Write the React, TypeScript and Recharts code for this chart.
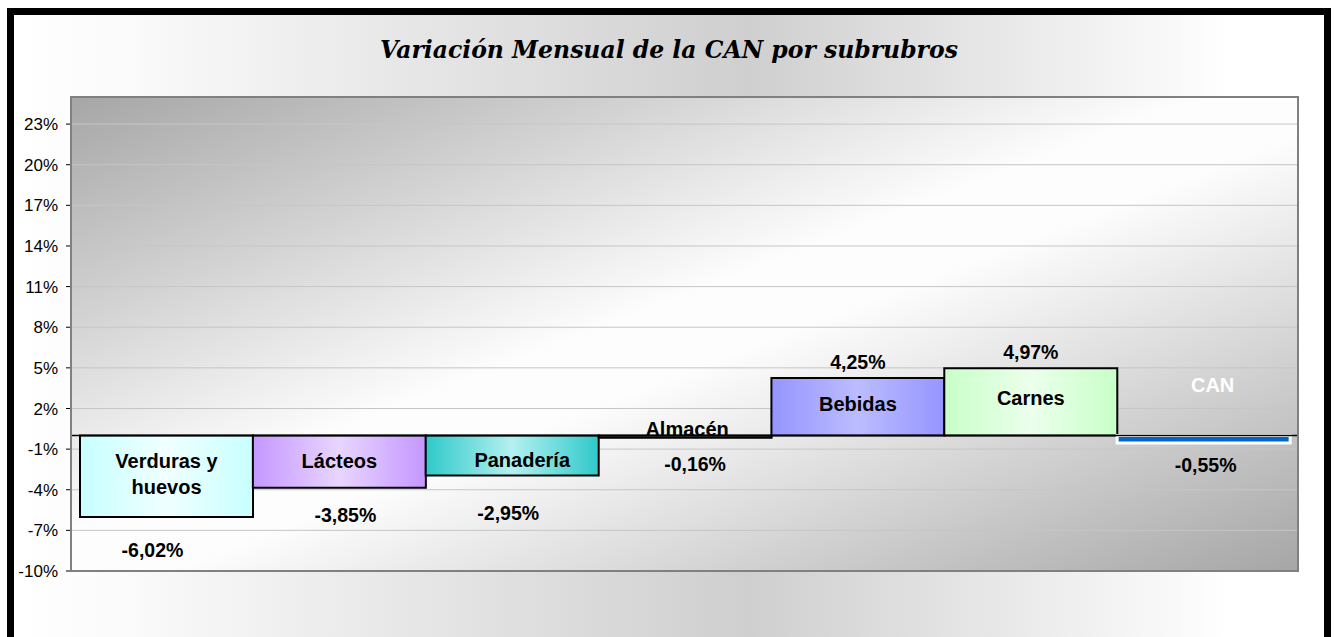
import { Bar, BarChart, CartesianGrid, Cell, LabelList, ReferenceLine, XAxis, YAxis } from 'recharts'

const CATEGORIES = ['Verduras y huevos', 'Lácteos', 'Panadería', 'Almacén', 'Bebidas', 'Carnes', 'CAN']
const VARIATION = [-6.02, -3.85, -2.95, -0.16, 4.25, 4.97, -0.55]
const Y_TICKS = [-10, -7, -4, -1, 2, 5, 8, 11, 14, 17, 20, 23]

const data = CATEGORIES.map((name, i) => ({ name, value: VARIATION[i] }))

// bar look: [edge colour, centre colour, stroke, stroke width]
const BAR_STYLE: [string, string, string, number][] = [
  ['#c8ffff', '#f0ffff', '#000', 2],
  ['#c597ff', '#e8d6ff', '#000', 2],
  ['#2fc9c9', '#b4f0f0', '#000', 2],
  ['#888888', '#aaaaaa', '#000', 2],
  ['#9595ff', '#bcbcff', '#000', 2],
  ['#c8ffc8', '#ecffec', '#000', 2],
  ['#0066cc', '#0066cc', '#fff', 3],
]

// manual label placement (excel-style dragged labels)
const NAME_LINES: Record<string, string[]> = { 'Verduras y huevos': ['Verduras y', 'huevos'] }
const NAME_DY = [25, 25, 24, -7, -32, -38, -51]
const NAME_DX = [0, 0, 10, 2, 0, 0, 9]
const NAME_FILL = ['#000', '#000', '#000', '#000', '#000', '#000', '#fff']
const VALUE_DY = [33, 27, 37, 26, -16, -16, 22]
const VALUE_DX = [-14, 6, -4, 10, 0, 0, 2]

const FONT = '"Liberation Sans", Arial, sans-serif'

const fmt = (v: number) => `${v.toFixed(2).replace('.', ',')}%`

function ends(props: any, v: number) {
  const y = Number(props.y)
  const h = Number(props.height)
  const top = Math.min(y, y + h)
  const bottom = Math.max(y, y + h)
  return v >= 0 ? { zero: bottom, end: top } : { zero: top, end: bottom }
}

function NameLabel(props: any) {
  const i = props.index as number
  const v = VARIATION[i]
  const name = CATEGORIES[i]
  const { zero } = ends(props, v)
  const cx = Number(props.x) + Number(props.width) / 2 + NAME_DX[i]
  const lines = NAME_LINES[name] ?? [name]
  const cy = zero + NAME_DY[i]
  return (
    <text
      x={cx}
      y={cy}
      textAnchor="middle"
      dominantBaseline="central"
      fontFamily={FONT}
      fontWeight="bold"
      fontSize={20}
      fill={NAME_FILL[i]}
    >
      {lines.map((l, k) => (
        <tspan key={l} x={cx} dy={k === 0 ? 0 : 26}>
          {l}
        </tspan>
      ))}
    </text>
  )
}

function ValueLabel(props: any) {
  const i = props.index as number
  const v = VARIATION[i]
  const { end } = ends(props, v)
  const cx = Number(props.x) + Number(props.width) / 2 + VALUE_DX[i]
  return (
    <text
      x={cx}
      y={end + VALUE_DY[i]}
      textAnchor="middle"
      dominantBaseline="central"
      fontFamily={FONT}
      fontWeight="bold"
      fontSize={19.5}
      fill="#000"
    >
      {fmt(v)}
    </text>
  )
}

export default function App() {
  return (
    <div
      style={{
        position: 'fixed',
        left: 0,
        top: 0,
        width: 1335,
        height: 637,
        overflow: 'hidden',
        background: '#fff',
      }}
    >
      <div
        style={{
          position: 'absolute',
          left: 7,
          top: 8,
          width: 1324,
          height: 660,
          boxSizing: 'border-box',
          border: '7px solid #000',
          background: 'linear-gradient(90deg, #ffffff 0%, #fbfbfb 8%, #cfcfcf 56%, #ffffff 93%)',
        }}
      >
        <div
          style={{
            position: 'absolute',
            left: 0,
            top: 20,
            width: '100%',
            textAlign: 'center',
            fontFamily: '"DejaVu Serif", serif',
            fontStyle: 'italic',
            fontWeight: 'bold',
            fontSize: 23.5,
            lineHeight: '30px',
            color: '#000',
          }}
        >
          Variación Mensual de la CAN por subrubros
        </div>
        <div style={{ position: 'absolute', left: 0, top: 0 }}>
          <BarChart
            width={1310}
            height={622}
            data={data}
            margin={{ top: 82, right: 26, bottom: 66, left: 0 }}
            barCategoryGap={0}
          >
            <defs>
              <linearGradient id="plotBg" x1="0" y1="0" x2="1" y2="1">
                <stop offset="0%" stopColor="#a6a6a6" />
                <stop offset="46%" stopColor="#fdfdfd" />
                <stop offset="54%" stopColor="#fdfdfd" />
                <stop offset="100%" stopColor="#a6a6a6" />
              </linearGradient>
              {BAR_STYLE.map(([edge, mid], i) => (
                <linearGradient key={i} id={`bar${i}`} x1="0" y1="0" x2="1" y2="0">
                  <stop offset="0%" stopColor={edge} />
                  <stop offset="50%" stopColor={mid} />
                  <stop offset="100%" stopColor={edge} />
                </linearGradient>
              ))}
            </defs>
            <CartesianGrid vertical={false} stroke="#c6c6c6" fill="url(#plotBg)" />
            <XAxis dataKey="name" hide padding={{ left: 9, right: 8 }} />
            <YAxis
              width={57}
              domain={[-10, 25]}
              ticks={Y_TICKS}
              interval={0}
              allowDataOverflow
              tickFormatter={(v) => `${v}%`}
              axisLine={false}
              tickLine={{ stroke: '#000' }}
              tickSize={5}
              tickMargin={8}
              tick={{ fill: '#000', fontSize: 17, fontFamily: FONT }}
            />
            <Bar dataKey="value" isAnimationActive={false}>
              {data.map((d, i) => (
                <Cell
                  key={d.name}
                  fill={`url(#bar${i})`}
                  stroke={BAR_STYLE[i][2]}
                  strokeWidth={BAR_STYLE[i][3]}
                />
              ))}
              <LabelList dataKey="name" content={NameLabel} />
              <LabelList dataKey="value" content={ValueLabel} />
            </Bar>
            <ReferenceLine y={0} stroke="#000" strokeWidth={1.5} />
          </BarChart>
        </div>
        <div
          style={{
            position: 'absolute',
            left: 56,
            top: 81,
            width: 1229,
            height: 476,
            boxSizing: 'border-box',
            border: '2px solid #808080',
            pointerEvents: 'none',
          }}
        />
      </div>
    </div>
  )
}
